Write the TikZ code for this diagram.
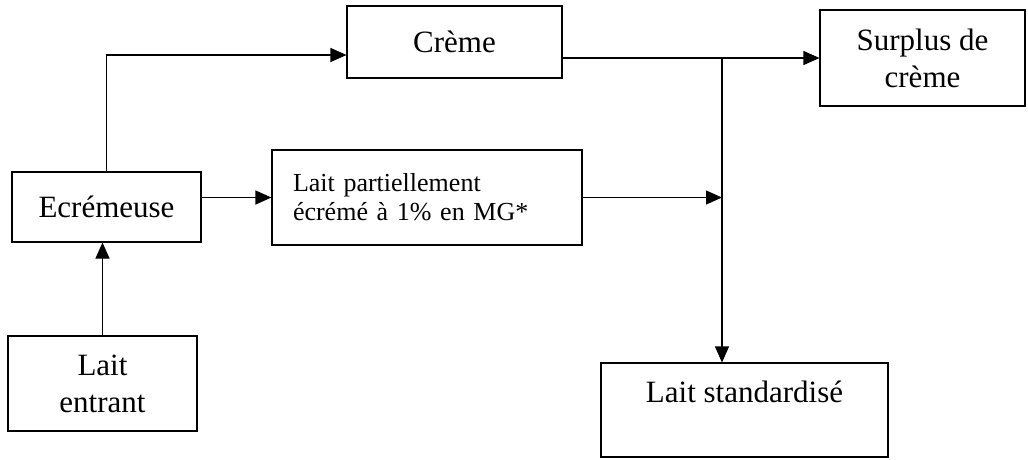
\documentclass[tikz,border=0pt]{standalone}
\usepackage{fontspec}
\setmainfont{Liberation Serif}
\usetikzlibrary{positioning, arrows.meta}

\tikzset{
  boite/.style={draw, line width=1.1pt, inner sep=0pt, align=center, font=\fontsize{31}{37}\selectfont},
  fleche/.style={line width=1.1pt, -{Triangle[length=16pt,width=14pt]}}
}

\begin{document}
\begin{tikzpicture}[x=1pt,y=-1pt]
    \useasboundingbox (0,0) rectangle (1028,459);

    \node[boite, minimum width=215pt, minimum height=72pt](creme)at(454.5,42){Crème};
    \node[boite, minimum width=205pt, minimum height=96pt](surplus)at(922.5,58){Surplus de\\crème};
    \node[boite, minimum width=189pt, minimum height=70pt](ecr)at(106.5,207){Ecrémeuse};
    \node[boite, minimum width=310pt, minimum height=95pt, text width=268pt, align=left,
          font=\fontsize{26}{29}\selectfont](partiel)at(427,197.5){Lait partiellement\\écrémé à 1\% en MG*};
    \node[boite, minimum width=189pt, minimum height=95pt](entrant)at(102.5,383.5){Lait\\entrant};
    \node[boite, minimum width=287pt, minimum height=94pt](std)at(744.5,410){Lait standardisé\\\mbox{}};

    \coordinate (j) at (722,58);%point de jonction

    \draw [fleche](entrant.north) -- (entrant.north |- ecr.south);
    \draw [fleche](ecr.north) |- ([yshift=-13pt]creme.west);
    \draw [fleche](ecr.east |- partiel.west) -- (partiel.west);
    \draw [fleche](creme.east |- surplus.west) -- (surplus.west);
    \draw [fleche](partiel.east) -- (partiel.east -| j);
    \draw [fleche](j) -- (j |- std.north);
\end{tikzpicture}
\end{document}
